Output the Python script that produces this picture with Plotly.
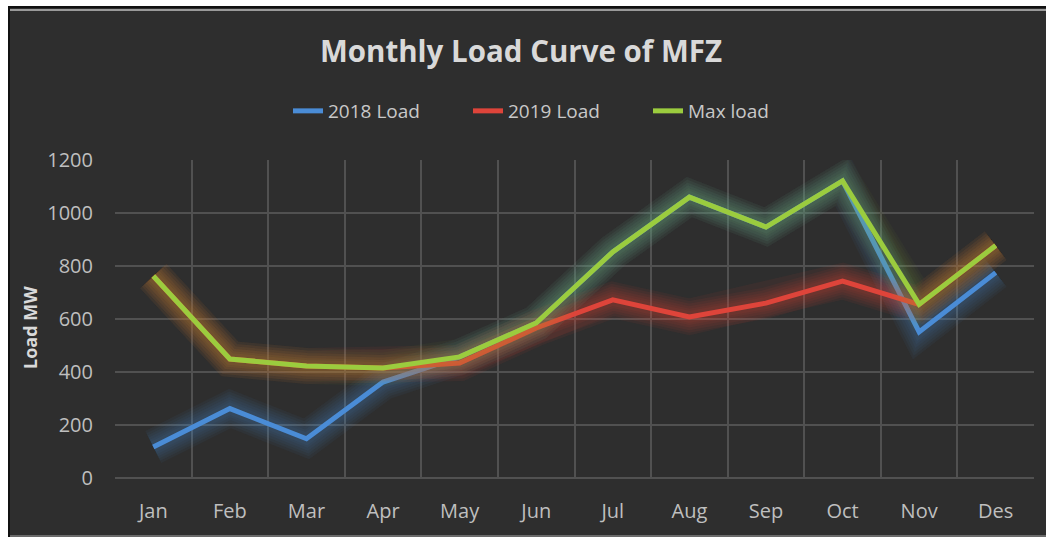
import plotly.graph_objects as go

months = ["Jan", "Feb", "Mar", "Apr", "May", "Jun", "Jul", "Aug", "Sep", "Oct", "Nov", "Des"]
load_2018 = [117, 262, 148, 362, 457, 585, 853, 1060, 947, 1121, 551, 775]
load_2019 = [762, 449, 423, 415, 434, 566, 672, 608, 660, 743, 655, 877]
max_load = [762, 449, 423, 415, 457, 585, 853, 1060, 947, 1121, 655, 877]
y_ticks = [0, 200, 400, 600, 800, 1000, 1200]

W, H = 1046, 537
ML, MR, MT, MB = 115, 12, 160, 59
PW, PH = W - ML - MR, H - MT - MB

def px(x):
    return (x - ML) / PW

def py(y):
    return (H - MB - y) / PH

BG = "#2e2e2e"
FONT = "Open Sans"
GLOW_WIDTHS = [36, 31, 26, 21, 16, 12]

series = [
    ("2018 Load", load_2018, (74, 140, 214), 0.055),
    ("2019 Load", load_2019, (222, 68, 58), 0.07),
    ("Max load", max_load, (155, 204, 62), 0.04),
]

fig = go.Figure()
for name, vals, (r, g, b), a in series:
    for w in GLOW_WIDTHS:
        fig.add_trace(go.Scatter(
            x=months, y=vals, mode="lines", showlegend=False, hoverinfo="skip",
            line=dict(color=f"rgba({r},{g},{b},{a})", width=w),
        ))
    fig.add_trace(go.Scatter(
        x=months, y=vals, mode="lines", name=name,
        line=dict(color=f"rgb({r},{g},{b})", width=5),
    ))

shapes = [
    dict(type="rect", xref="paper", yref="paper", layer="below",
         x0=px(9), x1=px(1050), y0=py(537), y1=py(7),
         fillcolor=BG, line=dict(color="#111111", width=2)),
    dict(type="line", xref="paper", yref="paper", layer="below",
         x0=px(10), x1=px(1050), y0=py(10), y1=py(10),
         line=dict(color="#9a9a9a", width=2)),
    dict(type="line", xref="paper", yref="paper", layer="below",
         x0=px(10), x1=px(1050), y0=py(536), y1=py(536),
         line=dict(color="#6a6a6a", width=2)),
]

fig.update_layout(
    width=W, height=H,
    margin=dict(l=ML, r=MR, t=MT, b=MB),
    paper_bgcolor="white",
    plot_bgcolor="rgba(0,0,0,0)",
    shapes=shapes,
    title=dict(text="<b>Monthly Load Curve of MFZ</b>", x=521 / W, xref="container",
               xanchor="center", y=1 - 52 / H, yanchor="middle", yref="container",
               font=dict(family=FONT, size=29.5, color="#d9d9d9")),
    legend=dict(orientation="h", x=px(558), xanchor="center", y=py(111), yanchor="middle",
                font=dict(family=FONT, size=19, color="#c8c8c8"),
                bgcolor="rgba(0,0,0,0)", entrywidth=135, entrywidthmode="pixels"),
    xaxis=dict(type="category", range=[-0.5, 11.5], tickson="boundaries",
               showgrid=True, gridcolor="#515151", gridwidth=1.5,
               ticks="", ticklabelstandoff=19,
               tickfont=dict(family=FONT, size=20, color="#bfbfbf"),
               showline=False, zeroline=False, fixedrange=True),
    yaxis=dict(range=[0, 1200], tickvals=y_ticks,
               showgrid=True, gridcolor="#515151", gridwidth=1.5,
               zeroline=True, zerolinecolor="#515151", zerolinewidth=1.5,
               ticks="outside", ticklen=17, tickcolor="rgba(0,0,0,0)",
               tickfont=dict(family=FONT, size=20, color="#bfbfbf"),
               showline=False, fixedrange=True),
    annotations=[dict(text="<b>Load MW</b>", xref="paper", yref="paper",
                      x=px(30), y=py(328), xanchor="center", yanchor="middle",
                      textangle=-90, showarrow=False,
                      font=dict(family=FONT, size=18, color="#d9d9d9"))],
)

fig.write_html("out.html", config={"displayModeBar": False},
               post_script="document.body.style.margin='0';")
